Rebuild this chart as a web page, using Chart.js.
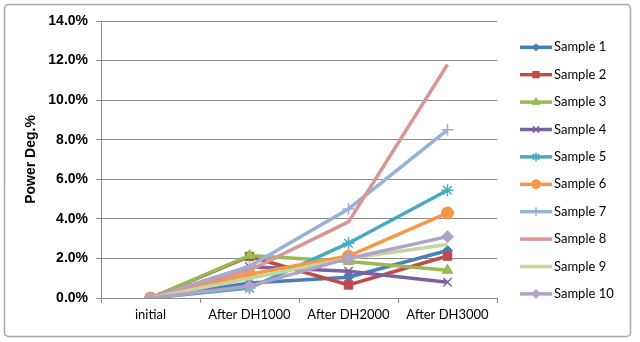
<!DOCTYPE html>
<html><head><meta charset="utf-8">
<script src="https://cdn.jsdelivr.net/npm/chart.js@4.4.1/dist/chart.umd.min.js"></script>
<style>html,body{margin:0;padding:0;background:#fff}#wrap{width:640px;height:342px;position:relative}</style>
</head><body><div id="wrap"><canvas id="c" width="640" height="342"></canvas></div>
<script>
const categories = ['initial', 'After DH1000', 'After DH2000', 'After DH3000'];
const yTicks = [0, 2, 4, 6, 8, 10, 12, 14];
const seriesNames = ['Sample 1','Sample 2','Sample 3','Sample 4','Sample 5','Sample 6','Sample 7','Sample 8','Sample 9','Sample 10'];
const sample1 = [0, 0.76, 1.05, 2.40];
const sample2 = [0, 2.10, 0.66, 2.12];
const sample3 = [0, 2.15, 1.85, 1.40];
const sample4 = [0, 1.58, 1.35, 0.80];
const sample5 = [0, 0.50, 2.77, 5.45];
const sample6 = [0, 1.20, 2.12, 4.30];
const sample7 = [0, 1.60, 4.50, 8.50];
const sample8 = [0, 1.40, 3.85, 11.80];
const sample9 = [0, 1.00, 2.00, 2.70];
const sample10 = [0, 0.60, 2.00, 3.10];
const seriesValues = [sample1, sample2, sample3, sample4, sample5, sample6, sample7, sample8, sample9, sample10];

const colors = ['#4A7EBB','#BE4B48','#98B954','#7D60A0','#46AAC5','#F79646','#95B3D7','#D99694','#C3D69B','#B3A2C7'];
const styles = ['rectRot','rect','triangle','crossRot','star','circle','cross',false,false,'rectRot'];
const radii = [5,6,6,6,6,6,6,0,0,6];

const datasets = seriesValues.map((v,i)=>({
  label: seriesNames[i], data: v,
  borderColor: colors[i], backgroundColor: colors[i],
  borderWidth: 3.5, pointStyle: styles[i], pointRadius: radii[i],
  pointBorderWidth: (styles[i]==='crossRot'||styles[i]==='star'||styles[i]==='cross') ? 1.5 : 1,
  pointHoverRadius: radii[i], tension: 0, order: 10 - i
}));

const frame = {
  id: 'frame',
  beforeDraw(chart){
    const ctx = chart.ctx;
    ctx.save();
    ctx.fillStyle = '#fff'; ctx.fillRect(0,0,chart.width,chart.height);
    ctx.strokeStyle = '#a6a6a6'; ctx.lineWidth = 1.5;
    ctx.beginPath();
    if (ctx.roundRect) ctx.roundRect(4.5,4.5,626,332,4); else ctx.rect(4.5,4.5,626,332);
    ctx.stroke();
    ctx.restore();
  },
  afterDraw(chart){
    const ctx = chart.ctx;
    ctx.save();
    chart.data.datasets.forEach((ds,i)=>{
      const y = 47.3 + i*27.4;
      ctx.strokeStyle = ds.borderColor; ctx.lineWidth = 3.5;
      ctx.beginPath(); ctx.moveTo(520,y); ctx.lineTo(552,y); ctx.stroke();
      if (ds.pointStyle) {
        ctx.fillStyle = ds.backgroundColor; ctx.strokeStyle = ds.borderColor; ctx.lineWidth = ds.pointBorderWidth;
        Chart.helpers.drawPoint(ctx, {pointStyle: ds.pointStyle, radius: ds.pointRadius - 1.5, rotation: 0, borderWidth: ds.pointBorderWidth}, 536, y);
      }
      ctx.fillStyle = '#000'; ctx.font = '13px Lato, "Open Sans", sans-serif';
      ctx.textBaseline = 'middle'; ctx.textAlign = 'left';
      ctx.fillText(ds.label, 554, y);
    });
    ctx.restore();
  }
};

new Chart(document.getElementById('c'), {
  type: 'line',
  data: { labels: categories, datasets },
  options: {
    responsive: false, animation: false, devicePixelRatio: 1,
    layout: { padding: { left: 0, top: 21, right: 143, bottom: 0 } },
    plugins: { legend: { display: false }, tooltip: { enabled: false } },
    scales: {
      x: {
        offset: true,
        grid: { offset: true, drawOnChartArea: false, drawTicks: true, tickLength: 5, color: '#8c8c8c' },
        border: { color: '#8c8c8c', width: 1 },
        ticks: { color: '#000', font: { family: 'Lato, "Open Sans", sans-serif', size: 13 }, padding: 4, maxRotation: 0 },
        afterFit: s => { s.height = 44; }
      },
      y: {
        min: 0, max: 14,
        afterBuildTicks: s => { s.ticks = yTicks.map(v=>({value:v})); },
        grid: { color: '#8c8c8c', tickLength: 5 },
        border: { color: '#8c8c8c', width: 1 },
        ticks: { color: '#000', font: { family: '"Liberation Sans", Arial, sans-serif', size: 14, weight: 'bold' }, padding: 8,
          callback: v => v.toFixed(1) + '%' },
        title: { display: true, text: 'Power Deg.%', color: '#000', font: { family: '"Liberation Sans", Arial, sans-serif', size: 14, weight: 'bold' }, padding: { top: 23, bottom: 0 } },
        afterFit: s => { s.width = 101; }
      }
    }
  },
  plugins: [frame]
});
</script></body></html>
